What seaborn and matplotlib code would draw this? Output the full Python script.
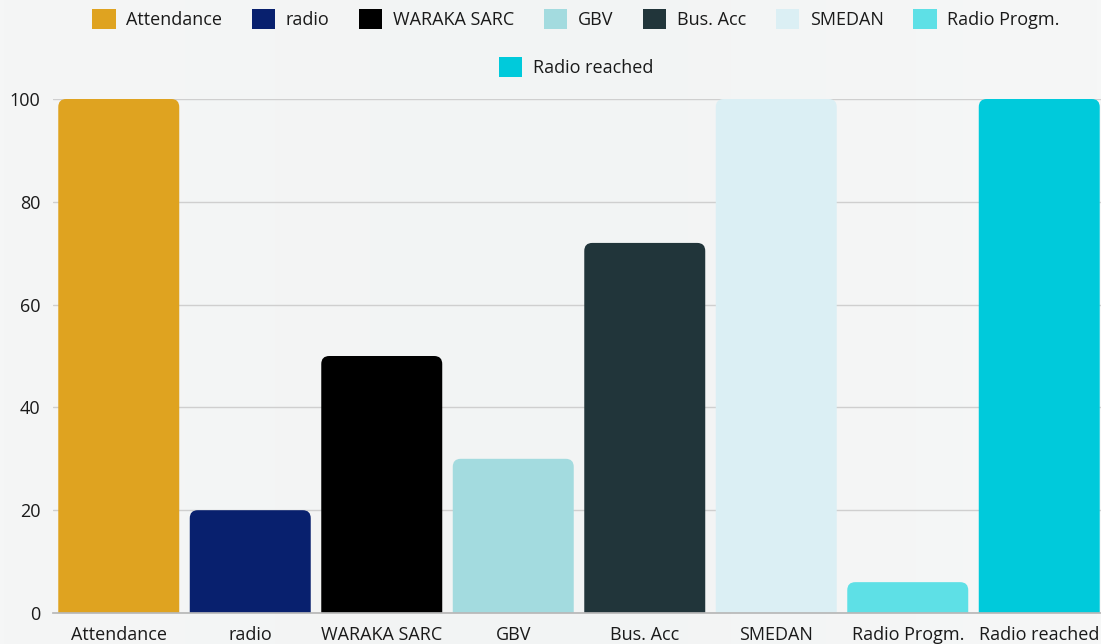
import numpy as np
import pandas as pd
import seaborn as sns
import matplotlib.pyplot as plt
from matplotlib.patches import FancyBboxPatch, Patch

# chart data
categories = ["Attendance", "radio", "WARAKA SARC", "GBV", "Bus. Acc",
              "SMEDAN", "Radio Progm.", "Radio reached"]
values = [100, 20, 50, 30, 72, 100, 6, 100]
colors = ["#DFA320", "#08206E", "#000000", "#A3DBDF", "#21353A",
          "#DBEFF4", "#5EE0E6", "#00CADB"]
y_ticks = [0, 20, 40, 60, 80, 100]

df = pd.DataFrame({"cat": categories, "val": values})

sns.set_theme(style="white")
plt.rcParams['font.family'] = ['Open Sans', 'DejaVu Sans']

fig = plt.figure(figsize=(11.01, 6.44), dpi=100, facecolor="#f5f6f6")

# soft background gradient
bg = fig.add_axes([0, 0, 1, 1], zorder=-10)
grad = np.linspace(0, 1, 256).reshape(1, -1)
bg.imshow(np.vstack([grad] * 4), aspect="auto", extent=[0, 1, 0, 1],
          cmap=sns.blend_palette(["#f5f6f6", "#f2f4f4", "#f6f7f7"], as_cmap=True))
bg.axis("off")

ax = fig.add_axes([53 / 1101, 31 / 644, 1052 / 1101, 514 / 644])
ax.patch.set_alpha(0)

sns.barplot(data=df, x="cat", y="val", hue="cat", palette=colors,
            width=0.92, legend=False, ax=ax, saturation=1, zorder=3)

ax.set_ylim(0, 100)
ax.set_yticks(y_ticks)
ax.set_xlim(-0.5, 7.5)
ax.set(xlabel="", ylabel="")
ax.yaxis.grid(True, color="#cfcfcf", linewidth=1, zorder=0)
for s in ["top", "right", "left"]:
    ax.spines[s].set_visible(False)
ax.spines["bottom"].set_color("#b8b8b8")
ax.spines["bottom"].set_zorder(4)
ax.tick_params(axis="both", length=0, labelsize=13, colors="#1a1a1a")
ax.tick_params(axis="x", pad=9)
ax.tick_params(axis="y", pad=9)

# swap plain bars for ones with rounded top corners
fig.canvas.draw()
px_x = ax.transData.transform((1, 0))[0] - ax.transData.transform((0, 0))[0]
px_y = ax.transData.transform((0, 1))[1] - ax.transData.transform((0, 0))[1]
r_px = 8
for bar in list(ax.patches):
    x, w, h = bar.get_x(), bar.get_width(), bar.get_height()
    fc = bar.get_facecolor()
    bar.remove()
    ry = r_px / px_y
    rb = FancyBboxPatch((x, -ry), w, h + ry,
                        boxstyle=f"round,pad=0,rounding_size={r_px / px_x}",
                        mutation_aspect=px_x / px_y,
                        facecolor=fc, edgecolor="none", zorder=3)
    ax.add_patch(rb)

# legend: 7 items in first row, last one centred below
handles = [Patch(facecolor=c, edgecolor="none") for c in colors]
leg_kw = dict(frameon=False, fontsize=13, handlelength=1.3, handleheight=1.3,
              handletextpad=0.6, columnspacing=1.62, labelcolor="#1a1a1a")
fig.legend(handles[:7], categories[:7], ncol=7, loc="center",
           bbox_to_anchor=(576 / 1101, 1 - 19 / 644), **leg_kw)
fig.legend(handles[7:], categories[7:], ncol=1, loc="center",
           bbox_to_anchor=(576 / 1101, 1 - 67 / 644), **leg_kw)

fig.savefig("out.png", dpi=100, facecolor=fig.get_facecolor())
